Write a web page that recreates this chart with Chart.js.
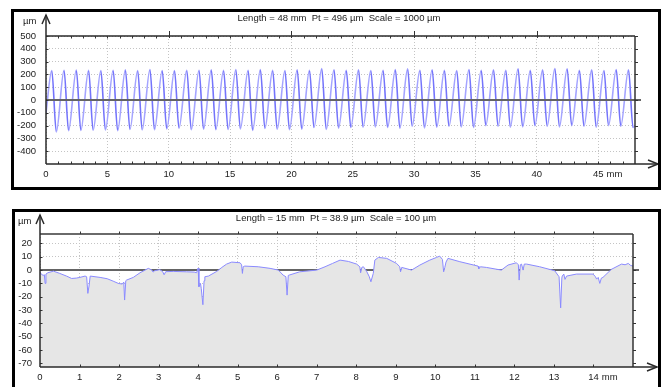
<!DOCTYPE html>
<html>
<head>
<meta charset="utf-8">
<script src="https://cdn.jsdelivr.net/npm/chart.js@4.4.0/dist/chart.umd.min.js"></script>
<style>
  html, body { margin: 0; padding: 0; background: #fff; overflow: hidden; }
  body { width: 663px; height: 387px; position: relative; }
  canvas { position: absolute; left: 0; }
  .box { position: absolute; border: 3px solid #000; box-sizing: border-box; pointer-events: none; }
</style>
</head>
<body>
<canvas id="topChart" width="663" height="200" style="top:0"></canvas>
<canvas id="botChart" width="663" height="187" style="top:200px"></canvas>
<div class="box" style="left:11px;top:9px;width:650px;height:181px"></div>
<div class="box" style="left:12px;top:209px;width:649px;height:200px"></div>
<script>
// ---- top trace (48 mm, one groove per mm) ----
const topTitle = "Length = 48 mm  Pt = 496 µm  Scale = 1000 µm";
const topXTicks = [0, 5, 10, 15, 20, 25, 30, 35, 40, 45];
const topYTicks = [-400, -300, -200, -100, 0, 100, 200, 300, 400, 500];
const topStart = [0, -100];
const topEnd = [48, -200];
const topPeakX = [0.47, 1.47, 2.47, 3.47, 4.47, 5.47, 6.47, 7.47, 8.47, 9.47, 10.47, 11.47,
  12.47, 13.47, 14.47, 15.47, 16.47, 17.47, 18.47, 19.47, 20.47, 21.47, 22.47, 23.47,
  24.47, 25.47, 26.47, 27.47, 28.47, 29.47, 30.47, 31.47, 32.47, 33.47, 34.47, 35.47,
  36.47, 37.47, 38.47, 39.47, 40.47, 41.47, 42.47, 43.47, 44.47, 45.47, 46.47, 47.47];
const topPeakY = [230, 232, 234, 232, 230, 233, 236, 230, 238, 231, 230, 232,
  233, 236, 232, 238, 233, 238, 232, 230, 236, 233, 246, 236,
  232, 236, 231, 233, 238, 243, 233, 236, 232, 230, 238, 232,
  236, 232, 244, 232, 236, 246, 244, 233, 236, 230, 238, 236];
const topTroughX = [0.84, 1.84, 2.84, 3.84, 4.84, 5.84, 6.84, 7.84, 8.84, 9.84, 10.84, 11.84,
  12.84, 13.84, 14.84, 15.84, 16.84, 17.84, 18.84, 19.84, 20.84, 21.84, 22.84, 23.84,
  24.84, 25.84, 26.84, 27.84, 28.84, 29.84, 30.84, 31.84, 32.84, 33.84, 34.84, 35.84,
  36.84, 37.84, 38.84, 39.84, 40.84, 41.84, 42.84, 43.84, 44.84, 45.84, 46.84, 47.84];
const topTroughY = [-250, -240, -238, -236, -234, -240, -230, -233, -232, -226, -220, -232,
  -228, -232, -230, -226, -238, -222, -228, -232, -228, -215, -230, -220,
  -215, -212, -210, -215, -220, -205, -218, -212, -205, -210, -215, -200,
  -205, -212, -210, -200, -205, -210, -200, -205, -212, -200, -205, -215];

// ---- bottom trace (15 mm profile) ----
const botTitle = "Length = 15 mm  Pt = 38.9 µm  Scale = 100 µm";
const botXTicks = [0, 1, 2, 3, 4, 5, 6, 7, 8, 9, 10, 11, 12, 13, 14];
const botYTicks = [-70, -60, -50, -40, -30, -20, -10, 0, 10, 20];
const profX = [0, 0.03, 0.08, 0.11, 0.13, 0.15, 0.2, 0.34, 0.5, 0.67, 0.8, 0.92, 1.01, 1.14, 1.18,
  1.21, 1.24, 1.27, 1.52, 1.7, 1.85, 1.98, 2.08, 2.12, 2.14, 2.17, 2.19, 2.36, 2.53, 2.74,
  2.83, 2.86, 2.9, 3.03, 3.1, 3.14, 3.18, 3.37, 3.71, 3.9, 3.96, 4.0, 4.02, 4.06, 4.08,
  4.12, 4.15, 4.17, 4.26, 4.47, 4.6, 4.72, 4.85, 5.06, 5.1, 5.12, 5.14, 5.18, 5.52, 5.82,
  6.03, 6.15, 6.22, 6.25, 6.28, 6.3, 6.57, 7.0, 7.21, 7.4, 7.59, 7.8, 8.01, 8.09, 8.11,
  8.14, 8.18, 8.26, 8.33, 8.37, 8.43, 8.47, 8.56, 8.77, 9.02, 9.1, 9.12, 9.15, 9.4, 9.61,
  9.86, 10.03, 10.11, 10.18, 10.21, 10.24, 10.27, 10.32, 10.62, 11.08, 11.1, 11.14, 11.29, 11.67, 11.84,
  12.05, 12.1, 12.12, 12.15, 12.18, 12.22, 12.25, 12.31, 12.64, 13.02, 13.13, 13.17, 13.2, 13.21, 13.25,
  13.28, 13.32, 13.57, 13.99, 14.05, 14.08, 14.12, 14.16, 14.2, 14.24, 14.45, 14.71, 14.8, 14.88, 14.94, 15.0];
const profY = [-1.5, -3, -4, -3.5, -10, -3, -2, -0.8, -2.5, -4.5, -6.3, -6, -5.5, -4.5, -5,
  -17.5, -12, -4.5, -5.5, -6.5, -8.3, -10, -10.5, -9, -22.5, -8, -7.5, -5.5, -2, 1.3,
  0, -1.5, -0.5, 0.3, -1, -3.5, -1.2, -1, -1.3, -1.5, -2, 1.5, -12.5, -10, -14,
  -26, -8, -5, -4.5, -1, 2, 4.5, 6, 5.5, 4, -2.5, 2.5, 3, 2.5, 1.3,
  0, -3.8, -5, -18.8, -4, -3.8, -1.3, 0, 2.5, 5, 7.5, 6.5, 4.5, 2.5, -2,
  2, 2.5, -0.8, -5, -8.8, -2.5, 7.5, 9.5, 8.8, 5, 2.5, -1.3, 2, 0, 3.8,
  7.5, 9.5, 10.5, 8, -1.3, 2, 6, 8.8, 6.3, 3, 1, 2.5, 2, 0, 3.8,
  5.5, 4, -7.5, 4, 4.5, 0, 4.5, 4.5, 2.5, -0.5, -5, -28.4, -6, -4.5, -3,
  -7, -4.5, -3, -3, -5, -6.8, -5.5, -10, -6, -5.5, 0.5, 4.5, 4, 5, 3.5, 3];

const FONT_FAMILY = '"Liberation Sans", Arial, sans-serif';
const FONT = '9.5px ' + FONT_FAMILY;

function seg(ctx, x1, y1, x2, y2) {
  ctx.beginPath(); ctx.moveTo(x1, y1); ctx.lineTo(x2, y2); ctx.stroke();
}
function poly(ctx, pts) {
  ctx.beginPath();
  pts.forEach((p, i) => i ? ctx.lineTo(p[0], p[1]) : ctx.moveTo(p[0], p[1]));
  ctx.stroke();
}

function zeroLine(chart) {
  const {ctx, chartArea: a, scales: {y}} = chart;
  const py = y.getPixelForValue(0);
  ctx.save();
  ctx.strokeStyle = '#646464';
  ctx.lineWidth = 2;
  seg(ctx, a.left, py, a.right + 6, py);
  ctx.restore();
}

function frame(chart, o) {
  const {ctx, chartArea: a, scales: {x, y}} = chart;
  ctx.save();
  // top and right edges of the plot
  ctx.strokeStyle = o.topColor; ctx.lineWidth = o.topWidth;
  seg(ctx, a.left, a.top, a.right, a.top);
  ctx.strokeStyle = '#333'; ctx.lineWidth = 1.5;
  seg(ctx, a.right, a.top, a.right, a.bottom);
  // small ticks every mm
  ctx.lineWidth = 1;
  for (let v = 1; v < x.max; v++) {
    const px = Math.round(x.getPixelForValue(v)) + 0.5;
    if (o.bigTopEvery && v % o.bigTopEvery === 0) seg(ctx, px, a.top - 5, px, a.top + 2);
    else seg(ctx, px, a.top, px, a.top + o.topTick);
    seg(ctx, px, a.bottom, px, a.bottom - 2.5);
  }
  // ticks on left and right edges
  o.yTicks.forEach(v => {
    const py = Math.round(y.getPixelForValue(v)) + 0.5;
    seg(ctx, a.left, py, a.left + 2.5, py);
    seg(ctx, a.right, py, a.right + 3, py);
  });
  // axes with arrows
  ctx.strokeStyle = '#2a2a2a'; ctx.lineWidth = 1.5;
  seg(ctx, a.left, a.bottom, a.left, o.arrowTop);
  poly(ctx, [[a.left - 4, o.arrowTop + 9], [a.left, o.arrowTop], [a.left + 4, o.arrowTop + 9]]);
  seg(ctx, a.left, a.bottom, o.arrowRight, a.bottom);
  poly(ctx, [[o.arrowRight - 10, a.bottom - 4], [o.arrowRight, a.bottom], [o.arrowRight - 10, a.bottom + 4]]);
  // texts
  ctx.fillStyle = '#222'; ctx.font = FONT; ctx.textBaseline = 'middle';
  ctx.textAlign = 'center';
  ctx.fillText(o.title, o.titleX, o.titleY);
  ctx.textAlign = 'left';
  ctx.fillText('µm', o.unitX, o.unitY);
  const last = o.xTicks[o.xTicks.length - 1];
  const w = ctx.measureText(String(last)).width;
  ctx.fillText('mm', x.getPixelForValue(last) + w / 2 + 3, a.bottom + 5 + 5.7);
  ctx.restore();
}

function scales(o) {
  const font = {family: FONT_FAMILY, size: 9.5};
  return {
    x: {
      type: 'linear', min: o.xMin, max: o.xMax,
      afterBuildTicks: s => { s.ticks = o.xTicks.map(v => ({value: v})); },
      afterFit: s => { s.height = 20; },
      grid: {color: '#c4c4c4', lineWidth: 1, drawTicks: false},
      border: {display: false, dash: [1, 2]},
      ticks: {padding: 5, font, color: '#222', maxRotation: 0, autoSkip: false}
    },
    y: {
      type: 'linear', min: o.yMin, max: o.yMax,
      afterBuildTicks: s => { s.ticks = o.yTicks.map(v => ({value: v})); },
      afterFit: s => { s.width = o.yWidth; },
      grid: {color: '#c4c4c4', lineWidth: 1, drawTicks: false},
      border: {display: false, dash: [1, 2]},
      ticks: {padding: o.yPad, font, color: '#222', autoSkip: false}
    }
  };
}

const common = {
  responsive: false,
  animation: false,
  devicePixelRatio: 1,
  plugins: {legend: {display: false}, tooltip: {enabled: false}},
  elements: {point: {radius: 0}}
};

// top chart
const topPts = [{x: topStart[0], y: topStart[1]}];
topPeakX.forEach((px, i) => {
  topPts.push({x: px, y: topPeakY[i]});
  topPts.push({x: topTroughX[i], y: topTroughY[i]});
});
topPts.push({x: topEnd[0], y: topEnd[1]});

new Chart(document.getElementById('topChart'), {
  type: 'line',
  data: {
    datasets: [{
      data: topPts,
      borderColor: '#7c7cff',
      borderWidth: 1.6,
      cubicInterpolationMode: 'monotone',
      fill: false,
      // rising flanks look paler than the falling ones
      segment: {borderColor: c => c.p1.parsed.y > c.p0.parsed.y ? '#a4a4ff' : '#7474fb'}
    }]
  },
  options: Object.assign({}, common, {
    layout: {padding: {left: 0, top: 36, right: 28, bottom: 16}},
    scales: scales({xMin: 0, xMax: 48, xTicks: topXTicks, yMin: -500, yMax: 500,
      yTicks: topYTicks, yWidth: 46, yPad: 10})
  }),
  plugins: [{
    id: 'topDeco',
    afterDatasetsDraw(chart) {
      zeroLine(chart);
      frame(chart, {title: topTitle, titleX: 339, titleY: 18, unitX: 23, unitY: 21,
        arrowTop: 15, arrowRight: 658, topColor: '#2a2a2a', topWidth: 1.5, topTick: 2.5,
        bigTopEvery: 10, xTicks: topXTicks, yTicks: topYTicks});
    }
  }]
});

// bottom chart
const profPts = profX.map((v, i) => ({x: v, y: profY[i]}));

new Chart(document.getElementById('botChart'), {
  type: 'line',
  data: {
    datasets: [{
      data: profPts,
      borderColor: '#8a8aff',
      borderWidth: 1,
      backgroundColor: '#e6e6e6',
      fill: 'start',
      tension: 0
    }]
  },
  options: Object.assign({}, common, {
    layout: {padding: {left: 0, top: 34, right: 30, bottom: 0}},
    scales: scales({xMin: 0, xMax: 15, xTicks: botXTicks, yMin: -72.8, yMax: 27.1,
      yTicks: botYTicks, yWidth: 40, yPad: 8})
  }),
  plugins: [{
    id: 'botDeco',
    beforeDatasetsDraw(chart) { zeroLine(chart); },
    afterDatasetsDraw(chart) {
      frame(chart, {title: botTitle, titleX: 336, titleY: 18, unitX: 18, unitY: 21,
        arrowTop: 15, arrowRight: 657, topColor: '#6a6a6a', topWidth: 2, topTick: -2.5,
        bigTopEvery: 0, xTicks: botXTicks, yTicks: botYTicks});
    }
  }]
});
</script>
</body>
</html>
